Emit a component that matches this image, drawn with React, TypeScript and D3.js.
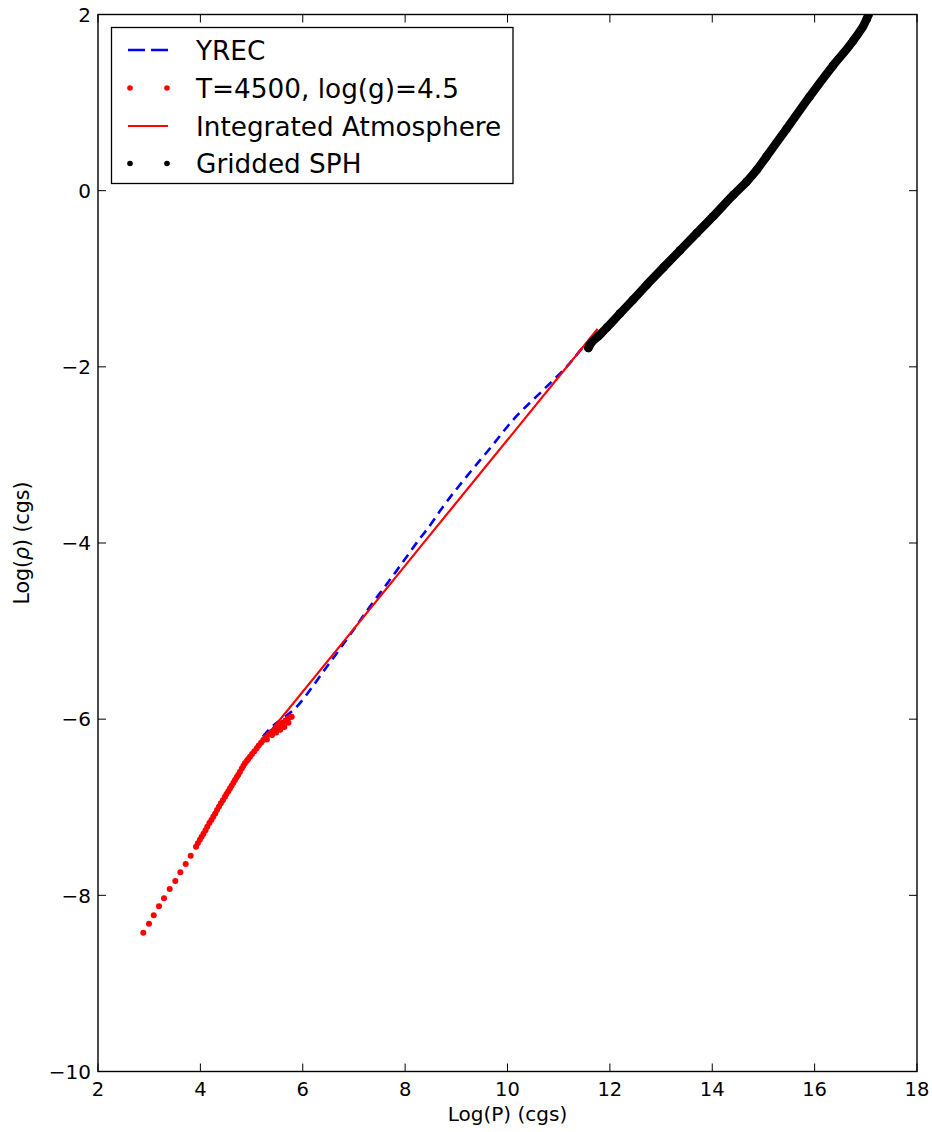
import React from "react";
import * as d3 from "d3";

// Pressure / density profiles, log10 cgs units
const yrecLogP = [5.22, 5.3, 5.88, 6.47, 6.92, 7.31, 7.7, 8.03, 8.29, 8.42, 8.75, 9.2, 9.66, 10.11, 10.7, 11.16, 11.55, 12.0];
const yrecLogRho = [-6.2, -6.144, -5.86, -5.405, -5.045, -4.724, -4.42, -4.156, -3.947, -3.852, -3.58, -3.246, -2.924, -2.602, -2.261, -1.996, -1.731, -1.52];

const atmLogP = [
  2.885, 2.996, 3.088, 3.192, 3.289, 3.401, 3.51, 3.608, 3.713, 3.811, 3.914,
  3.95, 3.99, 4.025, 4.06, 4.1, 4.135, 4.175, 4.215, 4.252, 4.29, 4.325, 4.363, 4.4, 4.44, 4.48,
  4.51, 4.545, 4.578, 4.61, 4.645, 4.676, 4.71, 4.74, 4.774, 4.81, 4.84, 4.871, 4.905, 4.935, 4.969,
  5.01, 5.055, 5.1, 5.14, 5.185, 5.229, 5.28, 5.335, 5.393, 5.45, 5.5, 5.555, 5.61, 5.665, 5.717, 5.76, 5.784,
  5.3, 5.4, 5.48, 5.56, 5.64, 5.72,
];
const atmLogRho = [
  -8.425, -8.322, -8.227, -8.125, -8.034, -7.928, -7.837, -7.739, -7.645, -7.55, -7.448,
  -7.41, -7.37, -7.335, -7.3, -7.26, -7.221, -7.18, -7.145, -7.108, -7.07, -7.03, -6.994, -6.955, -6.92, -6.881,
  -6.85, -6.818, -6.786, -6.755, -6.722, -6.691, -6.66, -6.63, -6.597, -6.56, -6.53, -6.501, -6.475, -6.452, -6.426,
  -6.395, -6.363, -6.331, -6.3, -6.268, -6.237, -6.205, -6.173, -6.142, -6.115, -6.09, -6.066, -6.04, -6.015, -5.99, -5.975, -5.972,
  -6.23, -6.18, -6.15, -6.12, -6.09, -6.04,
];

const intLogP = [5.1, 6.8, 8.4, 10.1, 11.76];
const intLogRho = [-6.33, -5.117, -3.97, -2.758, -1.57];

const sphLogP = [11.58, 11.61, 11.78, 11.94, 12.2, 12.45, 12.72, 13.05, 13.37, 13.7, 14.02, 14.41, 14.67, 14.87, 15.06, 15.45, 15.9, 16.36, 16.75, 17.02, 17.05];
const sphLogRho = [-1.785, -1.752, -1.65, -1.555, -1.393, -1.24, -1.07, -0.87, -0.678, -0.48, -0.29, -0.05, 0.1, 0.235, 0.388, 0.7, 1.066, 1.42, 1.70, 1.95, 1.995];

const xTicks = [2, 4, 6, 8, 10, 12, 14, 16, 18];
const yTicks = [2, 0, -2, -4, -6, -8, -10];

const legendLabels = ["YREC", "T=4500, log(g)=4.5", "Integrated Atmosphere", "Gridded SPH"];

const W = 932;
const H = 1132;
const left = 98;
const right = 917;
const top = 14.5;
const bottom = 1071.5;

const fmt = (v: number) => (v < 0 ? "\u2212" + Math.abs(v) : String(v));

export default function App() {
  const x = d3.scaleLinear().domain([2, 18]).range([left, right]);
  const y = d3.scaleLinear().domain([-10, 2]).range([bottom, top]);

  const pairs = (xs: number[], ys: number[]) => xs.map((v, i) => [v, ys[i]] as [number, number]);
  const line = d3
    .line<[number, number]>()
    .x((d) => x(d[0]))
    .y((d) => y(d[1]));
  const smooth = d3
    .line<[number, number]>()
    .x((d) => x(d[0]))
    .y((d) => y(d[1]))
    .curve(d3.curveMonotoneX);

  const yrec = pairs(yrecLogP, yrecLogRho);
  const atm = pairs(atmLogP, atmLogRho);
  const integ = pairs(intLogP, intLogRho);
  const sph = pairs(sphLogP, sphLogRho);

  const font = "'DejaVu Sans', 'Bitstream Vera Sans', sans-serif";
  const tickLen = 8;

  const legY = [50, 88, 126, 163.5];

  return (
    <svg
      width={W}
      height={H}
      style={{ position: "absolute", left: 0, top: 0, background: "#fff", display: "block" }}
      fontFamily={font}
    >
      <rect x={0} y={0} width={W} height={H} fill="#fff" />
      <defs>
        <clipPath id="plotClip">
          <rect x={left} y={top} width={right - left} height={bottom - top} />
        </clipPath>
      </defs>

      <g clipPath="url(#plotClip)">
        {/* YREC model */}
        <path
          d={smooth(yrec) || ""}
          fill="none"
          stroke="#0000ff"
          strokeWidth={2.6}
          strokeDasharray="9,6"
        />
        {/* Integrated atmosphere */}
        <path d={line(integ) || ""} fill="none" stroke="#ff0000" strokeWidth={2.2} />
        {/* Model atmosphere table points */}
        {atm.map((d, i) => (
          <circle key={"a" + i} cx={x(d[0])} cy={y(d[1])} r={3} fill="#ff0000" />
        ))}
        {/* Gridded SPH profile: densely sampled markers */}
        <path
          d={smooth(sph) || ""}
          fill="none"
          stroke="#000"
          strokeWidth={8.5}
          strokeLinecap="round"
          strokeLinejoin="round"
        />
        {sph.map((d, i) => (
          <circle key={"s" + i} cx={x(d[0])} cy={y(d[1])} r={4.3} fill="#000" />
        ))}
      </g>

      {/* frame */}
      <rect
        x={left}
        y={top}
        width={right - left}
        height={bottom - top}
        fill="none"
        stroke="#000"
        strokeWidth={1.4}
      />

      {/* x ticks */}
      {xTicks.map((t) => (
        <g key={"xt" + t}>
          <line x1={x(t)} x2={x(t)} y1={bottom} y2={bottom - tickLen} stroke="#000" strokeWidth={1} />
          <line x1={x(t)} x2={x(t)} y1={top} y2={top + tickLen} stroke="#000" strokeWidth={1} />
          <text x={x(t)} y={1096} textAnchor="middle" fontSize={19.5} fill="#000">
            {fmt(t)}
          </text>
        </g>
      ))}

      {/* y ticks */}
      {yTicks.map((t) => (
        <g key={"yt" + t}>
          <line x1={left} x2={left + tickLen} y1={y(t)} y2={y(t)} stroke="#000" strokeWidth={1} />
          <line x1={right} x2={right - tickLen} y1={y(t)} y2={y(t)} stroke="#000" strokeWidth={1} />
          <text x={91} y={y(t)} dy="0.36em" textAnchor="end" fontSize={20} fill="#000">
            {fmt(t)}
          </text>
        </g>
      ))}

      {/* axis titles */}
      <text x={(left + right) / 2} y={1121} textAnchor="middle" fontSize={20} fill="#000">
        Log(P) (cgs)
      </text>
      <text transform={`translate(29, ${(top + bottom) / 2}) rotate(-90)`} textAnchor="middle" fontSize={20.5} fill="#000">
        Log(<tspan fontStyle="italic">ρ</tspan>) (cgs)
      </text>

      {/* legend */}
      <rect x={111.5} y={27.5} width={401.5} height={156} fill="#fff" stroke="#000" strokeWidth={1.3} />
      <line x1={128} x2={168} y1={legY[0]} y2={legY[0]} stroke="#0000ff" strokeWidth={2.6} strokeDasharray="17,6" />
      <circle cx={130} cy={legY[1]} r={2.8} fill="#ff0000" />
      <circle cx={167} cy={legY[1]} r={2.8} fill="#ff0000" />
      <line x1={128} x2={168} y1={legY[2]} y2={legY[2]} stroke="#ff0000" strokeWidth={2.2} />
      <circle cx={130} cy={legY[3]} r={2.8} fill="#000" />
      <circle cx={167} cy={legY[3]} r={2.8} fill="#000" />
      {legendLabels.map((s, i) => (
        <text key={"l" + i} x={196} y={legY[i]} dy="0.365em" fontSize={26.3} fill="#000">
          {s}
        </text>
      ))}
    </svg>
  );
}
